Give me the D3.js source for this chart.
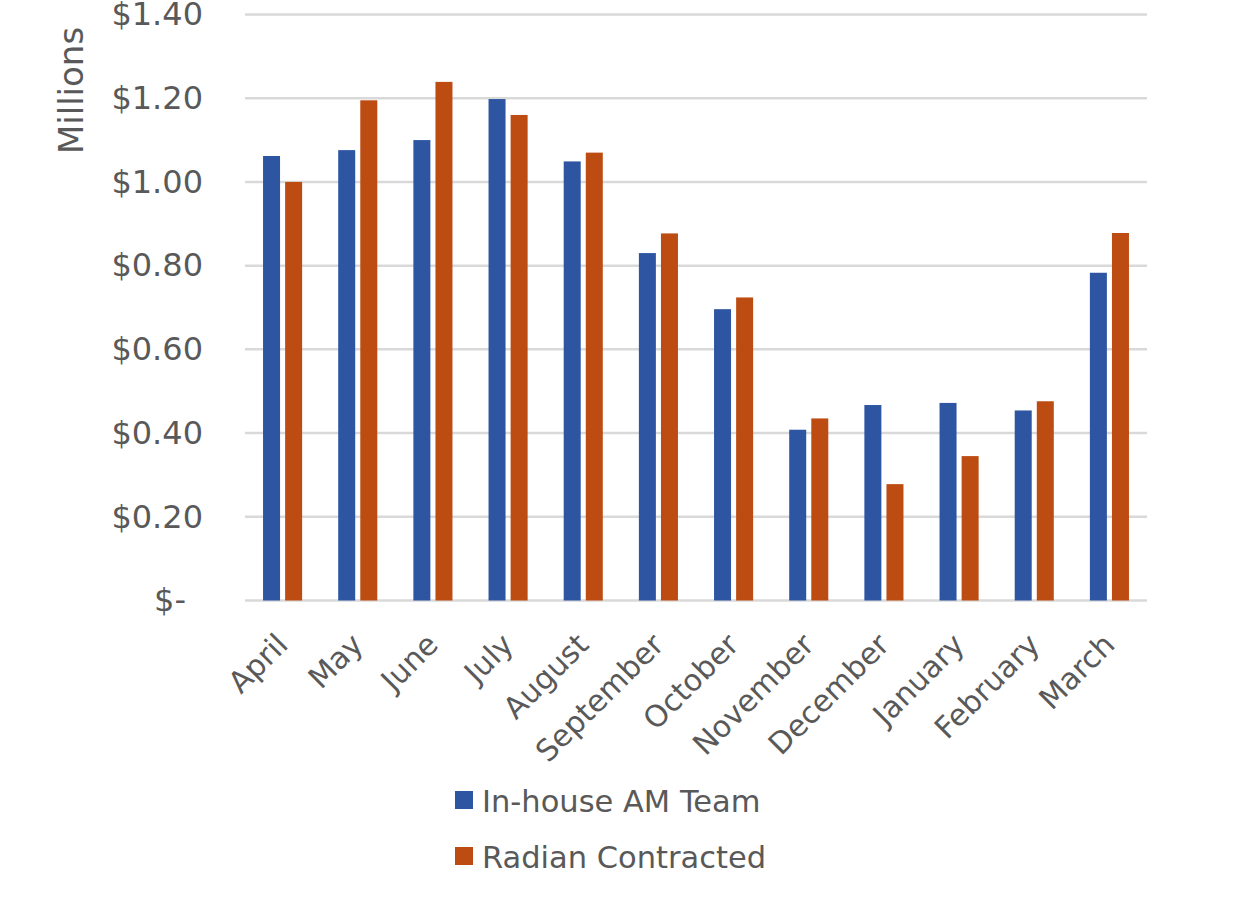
<!DOCTYPE html>
<html>
<head>
<meta charset="utf-8">
<script src="https://cdn.jsdelivr.net/npm/d3@7"></script>
<style>
  html, body { margin: 0; padding: 0; background: #ffffff; }
  svg { display: block; }
  text { font-family: "DejaVu Sans", sans-serif; fill: #595959; }
</style>
</head>
<body>
<svg id="chart" width="1242" height="905"></svg>
<script>
const months = ["April","May","June","July","August","September","October","November","December","January","February","March"];
const seriesNames = ["In-house AM Team", "Radian Contracted"];
const inHouse = [1.062, 1.076, 1.100, 1.198, 1.049, 0.830, 0.696, 0.408, 0.467, 0.472, 0.454, 0.783];
const radian  = [1.000, 1.195, 1.239, 1.160, 1.070, 0.877, 0.724, 0.435, 0.278, 0.345, 0.476, 0.878];
const yTicks = [0, 0.2, 0.4, 0.6, 0.8, 1.0, 1.2, 1.4];
const colors = ["#2D55A1", "#BD4C12"];

const svg = d3.select("#chart");
const plotLeft = 245, plotRight = 1147, plotTop = 14.5, plotBottom = 600.5;

const x0 = d3.scaleBand().domain(months).range([plotLeft, plotRight]).paddingInner(0.48).paddingOuter(0.24);
const x1 = d3.scaleBand().domain(seriesNames).range([0, x0.bandwidth()]).paddingInner(0.23);
const y = d3.scaleLinear().domain([0, 1.4]).range([plotBottom, plotTop]);

// gridlines
svg.append("g").selectAll("line").data(yTicks).join("line")
  .attr("x1", plotLeft).attr("x2", plotRight)
  .attr("y1", d => y(d)).attr("y2", d => y(d))
  .attr("stroke", "#D9D9D9").attr("stroke-width", 2.5);

// bars
const data = months.map((m, i) => ({ month: m, values: [inHouse[i], radian[i]] }));
svg.append("g").selectAll("g").data(data).join("g")
  .attr("transform", d => `translate(${x0(d.month)},0)`)
  .selectAll("rect").data(d => d.values.map((v, j) => ({ s: seriesNames[j], v, j })))
  .join("rect")
  .attr("x", d => x1(d.s))
  .attr("width", x1.bandwidth())
  .attr("y", d => y(d.v))
  .attr("height", d => y(0) - y(d.v))
  .attr("fill", d => colors[d.j]);

// y axis
const yAxis = d3.axisLeft(y).tickValues(yTicks).tickSize(0).tickPadding(42)
  .tickFormat(d => d === 0 ? "$-" : "$" + d3.format(".2f")(d));
const yg = svg.append("g").attr("transform", `translate(${plotLeft},0)`).call(yAxis);
yg.select(".domain").remove();
yg.selectAll("text").style("font-size", "32px").style("font-family", "DejaVu Sans")
  .attr("fill", "#595959")
  .attr("dx", d => d === 0 ? -17 : 0);

// x axis
const xAxis = d3.axisBottom(x0).tickSize(0).tickPadding(0);
const xg = svg.append("g").attr("transform", `translate(0,${plotBottom})`).call(xAxis);
xg.select(".domain").remove();
xg.selectAll("text").style("font-size", "30px").style("font-family", "DejaVu Sans")
  .attr("fill", "#595959")
  .attr("text-anchor", "end")
  .attr("dy", null).attr("y", null)
  .attr("transform", "translate(7,46) rotate(-45)");

// y title
svg.append("text")
  .attr("transform", "translate(83,90.5) rotate(-90)")
  .attr("text-anchor", "middle")
  .style("font-size", "34px")
  .text("Millions");

// legend
const legend = svg.append("g").selectAll("g").data(seriesNames).join("g")
  .attr("transform", (d, i) => `translate(455,${791 + i * 56})`);
legend.append("rect").attr("width", 18).attr("height", 18).attr("fill", (d, i) => colors[i]);
legend.append("text").attr("x", 27).attr("y", 21).style("font-size", "30.5px").text(d => d);
</script>
</body>
</html>
